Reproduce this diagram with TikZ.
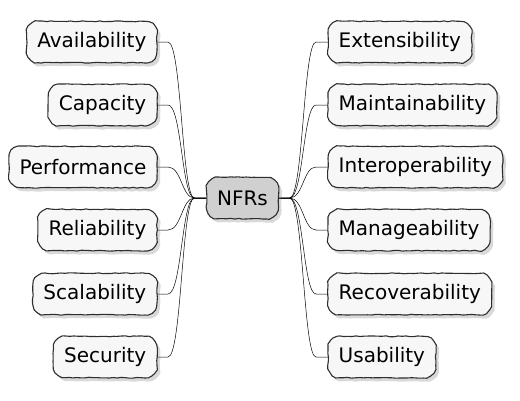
\documentclass[tikz,border=0pt]{standalone}
\usepackage{fontspec}
\setmainfont{DejaVu Sans}
\usetikzlibrary{calc}
\usetikzlibrary{shadows}
\usetikzlibrary{backgrounds}
\usetikzlibrary{decorations.pathmorphing}
\definecolor{leafFill}{HTML}{F7F7F7}
\definecolor{rootFill}{HTML}{D0D0D0}
\definecolor{edgeGray}{HTML}{2E2E2E}
\tikzset{
    sketchy/.style={decorate, decoration={random steps, segment length=4pt, amplitude=0.45pt}},
    topic/.style={inner xsep=10.5pt, minimum height=41pt, font=\fontsize{20}{24}\selectfont},
    outline/.style={sketchy, draw=edgeGray, line width=1.1pt, fill=#1,
        drop shadow={shadow xshift=3pt, shadow yshift=-3.5pt, opacity=0.3}},
    link/.style={draw=black, line width=0.5pt,
        to path={let \p1=(\tikztostart), \p2=(\tikztotarget) in
            -- (\x1+11pt,\y1)
            .. controls ({(\x1+\x2)/2},\y1) and ({(\x1+\x2)/2},\y2) ..
            (\x2-12pt,\y2) -- (\tikztotarget)}}
}
% hand drawn rounded box behind a named node (corner radius 12, handle 5.4)
\newcommand{\sketchBox}[2]{%
    \path[outline=#2]
        (#1.north) -- ($(#1.north east)+(-12,0)$)
        .. controls ($(#1.north east)+(-5.4,0)$) and ($(#1.north east)+(0,5.4)$) .. ($(#1.north east)+(0,12)$)
        -- ($(#1.south east)+(0,-12)$)
        .. controls ($(#1.south east)+(0,-5.4)$) and ($(#1.south east)+(-5.4,0)$) .. ($(#1.south east)+(-12,0)$)
        -- ($(#1.south west)+(12,0)$)
        .. controls ($(#1.south west)+(5.4,0)$) and ($(#1.south west)+(0,-5.4)$) .. ($(#1.south west)+(0,-12)$)
        -- ($(#1.north west)+(0,12)$)
        .. controls ($(#1.north west)+(0,5.4)$) and ($(#1.north west)+(5.4,0)$) .. ($(#1.north west)+(12,0)$)
        -- cycle;
}

\begin{document}
\begin{tikzpicture}[x=1pt, y=-1pt]
    \useasboundingbox (0,0) rectangle (520,400);

    % Globals
    \pgfmathsetmacro{\leftEdge}{157}
    \pgfmathsetmacro{\rightEdge}{328}

    % Root
    \node[topic] (NFR) at (242.5,198) {NFRs};

    % Left topics
    \node[topic, anchor=east] (AVAIL) at (\leftEdge,42) {Availability};
    \node[topic, anchor=east] (CAPAC) at (\leftEdge,105) {Capacity};
    \node[topic, anchor=east] (PERF) at (\leftEdge,167) {Performance};
    \node[topic, anchor=east] (RELI) at (\leftEdge,230) {Reliability};
    \node[topic, anchor=east] (SCAL) at (\leftEdge,294) {Scalability};
    \node[topic, anchor=east] (SECU) at (\leftEdge,357) {Security};

    % Right topics
    \node[topic, anchor=west] (EXTEN) at (\rightEdge,42) {Extensibility};
    \node[topic, anchor=west] (MAINT) at (\rightEdge,105) {Maintainability};
    \node[topic, anchor=west] (INTER) at (\rightEdge,167) {Interoperability};
    \node[topic, anchor=west] (MANAG) at (\rightEdge,230) {Manageability};
    \node[topic, anchor=west] (RECOV) at (\rightEdge,294) {Recoverability};
    \node[topic, anchor=west] (USAB) at (\rightEdge,357) {Usability};

    \begin{scope}[on background layer]
        % Links
        \draw[link] (AVAIL.east) to (NFR.west);
        \draw[link] (CAPAC.east) to (NFR.west);
        \draw[link] (PERF.east) to (NFR.west);
        \draw[link] (RELI.east) to (NFR.west);
        \draw[link] (SCAL.east) to (NFR.west);
        \draw[link] (SECU.east) to (NFR.west);

        \draw[link] (NFR.east) to (EXTEN.west);
        \draw[link] (NFR.east) to (MAINT.west);
        \draw[link] (NFR.east) to (INTER.west);
        \draw[link] (NFR.east) to (MANAG.west);
        \draw[link] (NFR.east) to (RECOV.west);
        \draw[link] (NFR.east) to (USAB.west);

        % Boxes
        \sketchBox{NFR}{rootFill}
        \sketchBox{AVAIL}{leafFill}
        \sketchBox{CAPAC}{leafFill}
        \sketchBox{PERF}{leafFill}
        \sketchBox{RELI}{leafFill}
        \sketchBox{SCAL}{leafFill}
        \sketchBox{SECU}{leafFill}
        \sketchBox{EXTEN}{leafFill}
        \sketchBox{MAINT}{leafFill}
        \sketchBox{INTER}{leafFill}
        \sketchBox{MANAG}{leafFill}
        \sketchBox{RECOV}{leafFill}
        \sketchBox{USAB}{leafFill}
    \end{scope}

\end{tikzpicture}
\end{document}
